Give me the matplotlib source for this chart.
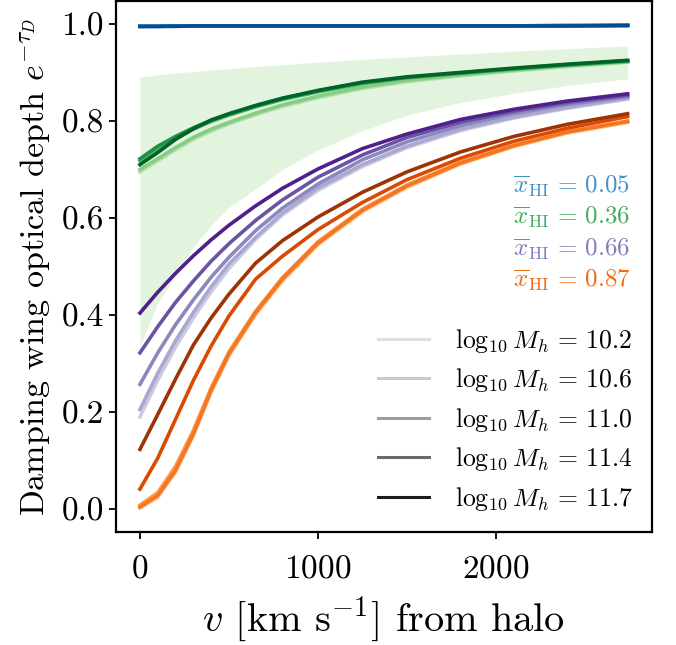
import matplotlib
matplotlib.use("Agg")
import matplotlib.pyplot as plt
from matplotlib.lines import Line2D

plt.rcParams["font.family"] = "serif"
plt.rcParams["font.serif"] = ["cmr10", "DejaVu Serif"]
plt.rcParams["mathtext.fontset"] = "cm"
plt.rcParams["axes.formatter.use_mathtext"] = True

# velocity offset from the halo [km/s]
v = [0, 100, 200, 300, 400, 500, 650, 800, 1000, 1250, 1500, 1800, 2100, 2400, 2740]

log_mh = [10.2, 10.6, 11.0, 11.4, 11.7]
x_hi = [0.05, 0.36, 0.66, 0.87]

# e^{-tau_D} per halo mass (10.2, 10.6, 11.0, 11.4, 11.7)
blue_102 = [0.995, 0.996, 0.996, 0.996, 0.996, 0.996, 0.996, 0.996, 0.996, 0.996, 0.996, 0.996, 0.996, 0.997, 0.997]
blue_106 = [0.995, 0.996, 0.996, 0.996, 0.996, 0.996, 0.996, 0.996, 0.996, 0.996, 0.996, 0.996, 0.996, 0.997, 0.997]
blue_110 = [0.995, 0.995, 0.996, 0.996, 0.996, 0.996, 0.996, 0.996, 0.996, 0.996, 0.996, 0.996, 0.996, 0.997, 0.997]
blue_114 = [0.995, 0.995, 0.996, 0.996, 0.996, 0.996, 0.996, 0.996, 0.996, 0.996, 0.996, 0.996, 0.996, 0.996, 0.997]
blue_117 = [0.995, 0.995, 0.995, 0.996, 0.996, 0.996, 0.996, 0.996, 0.996, 0.996, 0.996, 0.996, 0.996, 0.996, 0.997]

green_102 = [0.695, 0.718, 0.741, 0.762, 0.779, 0.794, 0.813, 0.830, 0.848, 0.867, 0.881, 0.893, 0.903, 0.912, 0.921]
green_106 = [0.700, 0.722, 0.745, 0.766, 0.783, 0.797, 0.816, 0.833, 0.851, 0.870, 0.884, 0.895, 0.905, 0.914, 0.922]
green_110 = [0.718, 0.742, 0.764, 0.783, 0.799, 0.812, 0.829, 0.844, 0.860, 0.877, 0.889, 0.898, 0.907, 0.915, 0.923]
green_114 = [0.722, 0.748, 0.768, 0.786, 0.801, 0.814, 0.831, 0.846, 0.862, 0.879, 0.890, 0.899, 0.908, 0.916, 0.924]
green_117 = [0.710, 0.735, 0.762, 0.784, 0.802, 0.815, 0.832, 0.847, 0.863, 0.880, 0.891, 0.900, 0.909, 0.917, 0.925]

purple_102 = [0.190, 0.266, 0.334, 0.394, 0.448, 0.496, 0.556, 0.606, 0.657, 0.706, 0.745, 0.780, 0.806, 0.826, 0.845]
purple_106 = [0.205, 0.280, 0.347, 0.405, 0.458, 0.505, 0.560, 0.610, 0.662, 0.710, 0.748, 0.783, 0.808, 0.828, 0.847]
purple_110 = [0.257, 0.322, 0.380, 0.431, 0.478, 0.519, 0.574, 0.620, 0.670, 0.720, 0.757, 0.790, 0.815, 0.834, 0.850]
purple_114 = [0.322, 0.376, 0.426, 0.470, 0.511, 0.547, 0.595, 0.637, 0.684, 0.730, 0.766, 0.797, 0.820, 0.838, 0.853]
purple_117 = [0.404, 0.447, 0.486, 0.522, 0.555, 0.585, 0.625, 0.661, 0.701, 0.743, 0.773, 0.803, 0.824, 0.841, 0.856]

orange_102 = [0.002, 0.024, 0.076, 0.151, 0.241, 0.316, 0.401, 0.470, 0.545, 0.613, 0.663, 0.711, 0.747, 0.775, 0.797]
orange_106 = [0.008, 0.034, 0.088, 0.162, 0.250, 0.324, 0.408, 0.477, 0.551, 0.618, 0.668, 0.715, 0.750, 0.778, 0.800]
orange_110 = [0.004, 0.028, 0.080, 0.155, 0.245, 0.320, 0.405, 0.474, 0.548, 0.616, 0.666, 0.713, 0.749, 0.777, 0.799]
orange_114 = [0.041, 0.105, 0.185, 0.265, 0.336, 0.398, 0.474, 0.521, 0.576, 0.632, 0.679, 0.723, 0.758, 0.785, 0.809]
orange_117 = [0.123, 0.195, 0.268, 0.338, 0.394, 0.443, 0.507, 0.553, 0.602, 0.653, 0.695, 0.736, 0.768, 0.793, 0.815]

# scatter of the x_HI = 0.36 sightlines
band_lo = [0.336, 0.425, 0.480, 0.540, 0.585, 0.622, 0.660, 0.700, 0.740, 0.780, 0.812, 0.838, 0.857, 0.873, 0.887]
band_hi = [0.890, 0.895, 0.899, 0.902, 0.905, 0.908, 0.912, 0.916, 0.921, 0.927, 0.932, 0.938, 0.944, 0.949, 0.955]

curves = [
    [blue_102, blue_106, blue_110, blue_114, blue_117],
    [green_102, green_106, green_110, green_114, green_117],
    [purple_102, purple_106, purple_110, purple_114, purple_117],
    [orange_102, orange_106, orange_110, orange_114, orange_117],
]
cmaps = ["Blues", "Greens", "Purples", "Oranges"]
shade = [0.32, 0.45, 0.58, 0.74, 0.9]

fig = plt.figure(figsize=(6.76, 6.45), dpi=100)
ax = fig.add_axes([0.171, 0.175, 0.7935, 0.823])

ax.fill_between(v, band_lo, band_hi, color="#e2f4de", lw=0, zorder=1)

for cmap_name, group in zip(cmaps, curves):
    cmap = plt.get_cmap(cmap_name)
    for s, y in zip(shade, group):
        ax.plot(v, y, color=cmap(s), lw=2.6, zorder=2)

for i, (cmap_name, xh) in enumerate(zip(cmaps, x_hi)):
    ax.text(0.96, 0.652 - i * 0.0595, r"$\overline{x}_\mathrm{HI}\,=\,%.2f$" % xh,
            transform=ax.transAxes, ha="right", va="center", fontsize=18,
            color=plt.get_cmap(cmap_name)(0.62))

greys = plt.get_cmap("Greys")
handles = [Line2D([], [], color=greys(s), lw=2.2) for s in [0.22, 0.32, 0.48, 0.66, 0.9]]
labels = [r"$\log_{10} M_h\,=\,%.1f$" % m for m in log_mh]
ax.legend(handles, labels, loc="lower right", frameon=False, fontsize=18.5,
          handlelength=2.0, handletextpad=1.0, labelspacing=0.45, borderaxespad=0.35)

ax.set_xticks([0, 1000, 2000])
ax.set_yticks([0.0, 0.2, 0.4, 0.6, 0.8, 1.0])
ax.set_yticklabels(["0.0", "0.2", "0.4", "0.6", "0.8", "1.0"])
ax.tick_params(labelsize=24, length=5, width=1.3)
ax.tick_params(axis="x", pad=11)
for sp in ax.spines.values():
    sp.set_linewidth(1.6)

ax.set_xlabel(r"$v$ [km s$^{-1}$] from halo", fontsize=29, labelpad=8)
ax.set_ylabel(r"Damping wing optical depth $e^{-\tau_D}$", fontsize=24.5, labelpad=6)

fig.savefig("out.png", dpi=100)
